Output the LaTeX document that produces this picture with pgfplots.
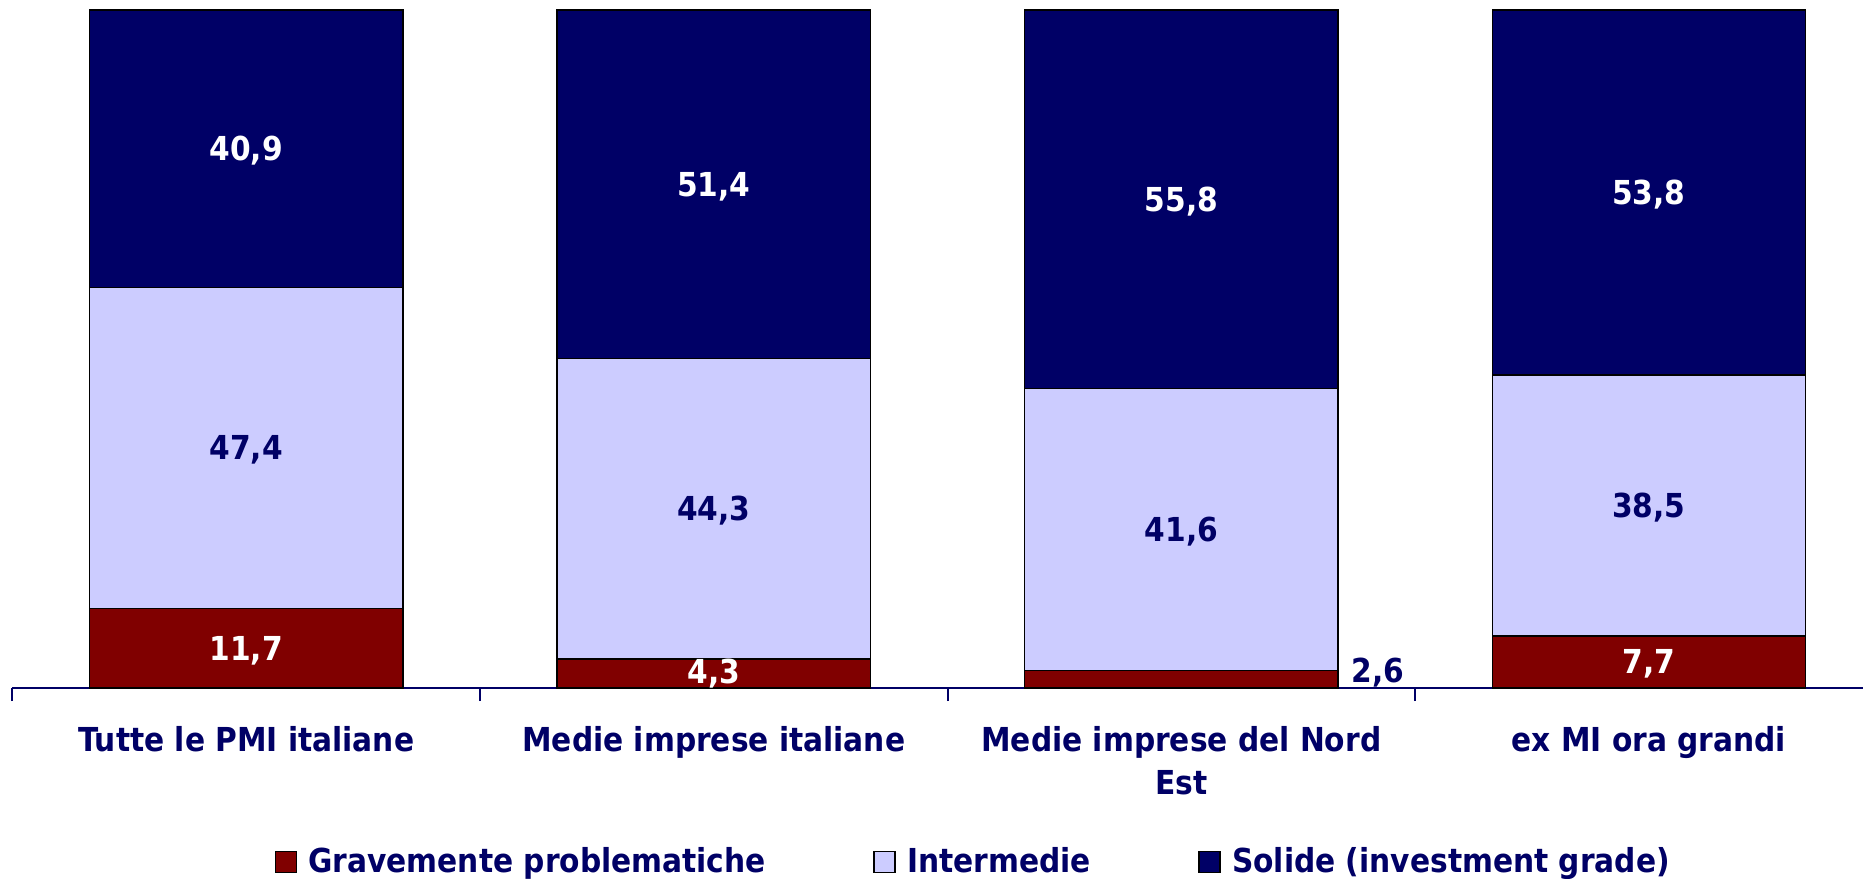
\documentclass[border=0pt]{standalone}
\usepackage{fontspec}
\setmainfont{DejaVu Sans Condensed}
\usepackage{pgfplots}
\pgfplotsset{compat=1.18}

\definecolor{navyd}{HTML}{000066}
\definecolor{txtnavy}{HTML}{000066}
\definecolor{redd}{HTML}{800000}
\definecolor{lav}{HTML}{CCCCFF}

\newcommand{\lab}{\fontsize{13.2}{17.2}\selectfont\bfseries}
\tikzset{vl/.style={font=\lab, inner sep=0pt, anchor=base}}

\begin{document}
\begin{tikzpicture}
\begin{axis}[
  name=ax,
  scale only axis,
  width=740.2pt, height=271.2pt,
  ybar stacked,
  bar width=0.67,
  xmin=-0.5, xmax=3.458,
  ymin=0, ymax=100,
  axis y line=none,
  axis x line*=bottom,
  x axis line style={draw=txtnavy, line width=0.8pt},
  xtick={0,1,2,3},
  xticklabels={Tutte le PMI italiane, Medie imprese italiane, Medie imprese del Nord\\Est, ex MI ora grandi},
  major tick length=0pt,
  extra x ticks={-0.5,0.5,1.5,2.5},
  extra x tick labels={},
  extra x tick style={major tick length=5.2pt, tick align=outside, tick style={draw=txtnavy, line width=0.8pt}},
  xticklabel style={anchor=north, inner sep=0pt, yshift=-15.2pt, align=center, font=\lab, text=txtnavy},
  clip=false,
  legend columns=3,
  legend style={at={(0.52,-0.2566)}, anchor=center, draw=none, fill=none, inner sep=0pt,
    font=\lab, text=txtnavy,
    /tikz/every even column/.append style={column sep=41pt}},
  legend image code/.code={\path[draw=none,fill=none] (0pt,0pt) -- (11.2pt,0pt);
    \draw[#1,draw=black,line width=0.6pt] (0pt,-4.2pt) rectangle (8.4pt,4.2pt);},
]
\addplot[fill=redd, draw=black, line width=0.6pt] coordinates {(0,11.7) (1,4.3) (2,2.6) (3,7.7)};
\addplot[fill=lav, draw=black, line width=0.6pt] coordinates {(0,47.4) (1,44.3) (2,41.6) (3,38.5)};
\addplot[fill=navyd, draw=black, line width=0.6pt] coordinates {(0,40.9) (1,51.4) (2,55.8) (3,53.8)};
\legend{Gravemente problematiche, Intermedie, Solide (investment grade)}

% anchor points for the value labels (baseline = segment middle - half cap height)
\coordinate (a1) at (axis cs:0,4.08);
\coordinate (a2) at (axis cs:0,33.63);
\coordinate (a3) at (axis cs:0,77.78);
\coordinate (b1) at (axis cs:1,0.6);
\coordinate (b2) at (axis cs:1,24.68);
\coordinate (b3) at (axis cs:1,72.53);
\coordinate (c1) at (axis cs:2.363,0.74);
\coordinate (c2) at (axis cs:2,21.63);
\coordinate (c3) at (axis cs:2,70.33);
\coordinate (d1) at (axis cs:3,2.08);
\coordinate (d2) at (axis cs:3,25.18);
\coordinate (d3) at (axis cs:3,71.33);
\end{axis}
\node[vl, text=white]   at (a1) {11,7};
\node[vl, text=txtnavy] at (a2) {47,4};
\node[vl, text=white]   at (a3) {40,9};
\node[vl, text=white]   at (b1) {4,3};
\node[vl, text=txtnavy] at (b2) {44,3};
\node[vl, text=white]   at (b3) {51,4};
\node[vl, text=txtnavy, anchor=base west] at (c1) {2,6};
\node[vl, text=txtnavy] at (c2) {41,6};
\node[vl, text=white]   at (c3) {55,8};
\node[vl, text=white]   at (d1) {7,7};
\node[vl, text=txtnavy] at (d2) {38,5};
\node[vl, text=white]   at (d3) {53,8};
\pgfresetboundingbox
\path ([shift={(-5pt,-76pt)}]ax.south west) rectangle ([shift={(0pt,4pt)}]ax.north east);
\end{tikzpicture}
\end{document}
